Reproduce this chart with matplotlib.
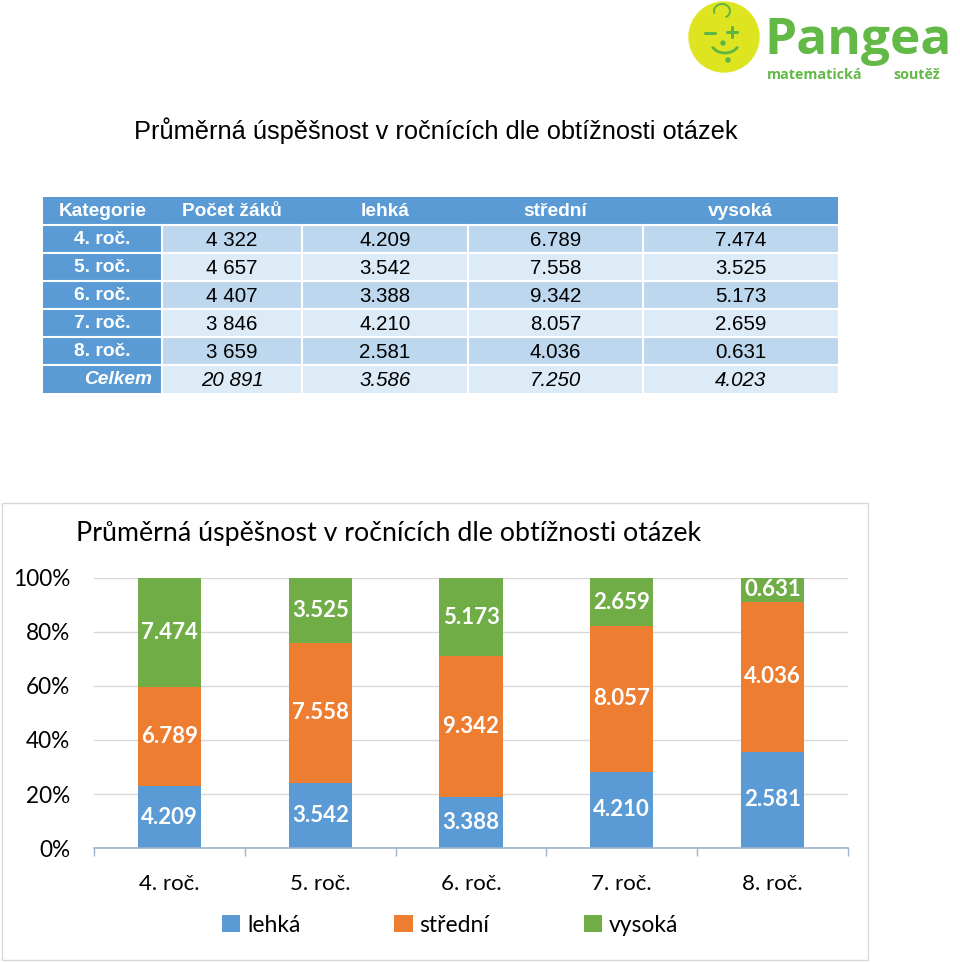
import matplotlib
matplotlib.use("Agg")
import matplotlib.pyplot as plt
from matplotlib.patches import Rectangle, Circle, Arc
import numpy as np

# ---------------- data ----------------
categories = ['4. roč.', '5. roč.', '6. roč.', '7. roč.', '8. roč.']
pocet = ['4 322', '4 657', '4 407', '3 846', '3 659']
lehka = [4.209, 3.542, 3.388, 4.210, 2.581]
stredni = [6.789, 7.558, 9.342, 8.057, 4.036]
vysoka = [7.474, 3.525, 5.173, 2.659, 0.631]
total_label = 'Celkem'
total_pocet = '20 891'
total_vals = [3.586, 7.250, 4.023]
header = ['Kategorie', 'Počet žáků', 'lehká', 'střední', 'vysoká']
series_names = ['lehká', 'střední', 'vysoká']
title = 'Průměrná úspěšnost v ročnících dle obtížnosti otázek'

C_BLUE = '#5B9BD5'
C_ORANGE = '#ED7D31'
C_GREEN = '#70AD47'

W, H = 960, 963
fig = plt.figure(figsize=(W / 100, H / 100), dpi=100)
fig.patch.set_facecolor('white')

# overlay axes in pixel coordinates
ax0 = fig.add_axes([0, 0, 1, 1])
ax0.set_xlim(0, W)
ax0.set_ylim(H, 0)
ax0.axis('off')

# ---------------- logo ----------------
logo_green = '#5DB544'
ax0.add_patch(Circle((724, 37), 35, color='#DFE421', zorder=2))
ax0.plot([705, 715], [33, 33], color=logo_green, lw=2.2, zorder=3, solid_capstyle='round')
ax0.plot([727, 737], [32, 32], color=logo_green, lw=2.2, zorder=3, solid_capstyle='round')
ax0.plot([732, 732], [27, 37], color=logo_green, lw=2.2, zorder=3, solid_capstyle='round')
ax0.add_patch(Circle((723, 43), 2.0, color=logo_green, zorder=3))
ax0.add_patch(Circle((728, 60), 2.0, color=logo_green, zorder=3))
ax0.add_patch(Arc((725, 42), 28, 22, theta1=20, theta2=160, color=logo_green, lw=2.0, zorder=3))
ax0.add_patch(Arc((722, 11), 16, 14, theta1=160, theta2=420, color=logo_green, lw=1.4, zorder=3))
lfont = ['Open Sans', 'DejaVu Sans']
ax0.text(764, 54, 'Pangea', fontsize=37, fontweight='bold', color='#62B946',
         family=lfont, ha='left', va='baseline')
ax0.text(767, 79, 'matematická', fontsize=10.3, fontweight='bold', color='#62B946',
         family=lfont, ha='left', va='baseline')
ax0.text(893, 79, 'soutěž', fontsize=10.3, fontweight='bold', color='#62B946',
         family=lfont, ha='left', va='baseline')

# ---------------- top title ----------------
ax0.text(436, 131, title, fontsize=18.3, color='black', family=['Liberation Sans', 'DejaVu Sans'],
         ha='center', va='center')

# ---------------- table ----------------
col_edges = [43, 162, 302, 468, 643, 838]
row_edges = [197, 225, 253, 281, 309, 337, 365, 393]
tfont = ['Liberation Sans', 'DejaVu Sans']
hsize = 13.8
dsize = 14.8
band_dark = '#BDD7EE'
band_light = '#DDEBF7'

rows = []
for i, cat in enumerate(categories):
    rows.append([cat, pocet[i], f'{lehka[i]:.3f}', f'{stredni[i]:.3f}', f'{vysoka[i]:.3f}'])
rows.append([total_label, total_pocet] + [f'{v:.3f}' for v in total_vals])

# header
for c in range(5):
    x0, x1 = col_edges[c], col_edges[c + 1]
    y0, y1 = row_edges[0], row_edges[1]
    ax0.add_patch(Rectangle((x0, y0), x1 - x0, y1 - y0, facecolor=C_BLUE, edgecolor='none', zorder=1))
for c, h in enumerate(header):
    xc = (col_edges[c] + col_edges[c + 1]) / 2
    ax0.text(xc, (row_edges[0] + row_edges[1]) / 2 + 1, h, color='white', fontsize=hsize,
             fontweight='bold', family=tfont, ha='center', va='center', zorder=3)

for r, row in enumerate(rows):
    y0, y1 = row_edges[r + 1], row_edges[r + 2]
    yc = (y0 + y1) / 2 + 1
    is_total = (r == len(rows) - 1)
    for c in range(5):
        x0, x1 = col_edges[c], col_edges[c + 1]
        if c == 0:
            fc = C_BLUE
        else:
            fc = band_dark if r % 2 == 0 else band_light
        ax0.add_patch(Rectangle((x0, y0), x1 - x0, y1 - y0, facecolor=fc, edgecolor='none', zorder=1))
        style = 'italic' if is_total else 'normal'
        if c == 0:
            if is_total:
                ax0.text(x1 - 10, yc, row[c], color='white', fontsize=hsize, family=tfont,
                         fontweight='bold', style=style, ha='right', va='center', zorder=3)
            else:
                ax0.text((x0 + x1) / 2, yc, row[c], color='white', fontsize=hsize, family=tfont,
                         fontweight='bold', ha='center', va='center', zorder=3)
        else:
            ax0.text((x0 + x1) / 2, yc, row[c], color='black', fontsize=dsize, family=tfont,
                     style=style, ha='center', va='center', zorder=3)

# white separators
for y in row_edges[1:-1]:
    ax0.plot([col_edges[0], col_edges[-1]], [y, y], color='white', lw=1.5, zorder=2)
for x in col_edges[1:-1]:
    ax0.plot([x, x], [row_edges[1], row_edges[-1]], color='white', lw=1.5, zorder=2)

# chart border
ax0.add_patch(Rectangle((1.5, 503), 866, 457, facecolor='none', edgecolor='#D9D9D9', lw=1, zorder=1))

# ---------------- chart ----------------
cfont = ['Lato', 'DejaVu Sans']
left, right, top, bottom = 94, 848, 578, 848
ax = fig.add_axes([left / W, (H - bottom) / H, (right - left) / W, (bottom - top) / H])
ax.set_facecolor('none')

vals = np.array([lehka, stredni, vysoka])
tot = vals.sum(axis=0)
frac = vals / tot
x = np.arange(len(categories))
colors = [C_BLUE, C_ORANGE, C_GREEN]
bottoms = np.zeros(len(categories))
for s in range(3):
    ax.bar(x, frac[s], 0.42, bottom=bottoms, color=colors[s], label=series_names[s], zorder=3)
    for i in range(len(categories)):
        ax.text(x[i], bottoms[i] + frac[s][i] / 2, f'{vals[s][i]:.3f}', color='white',
                fontsize=16, fontweight='bold', family=cfont, ha='center', va='center', zorder=4)
    bottoms = bottoms + frac[s]

ax.set_xlim(-0.5, len(categories) - 0.5)
ax.set_ylim(0, 1)
ax.set_yticks(np.linspace(0, 1, 6))
ax.set_yticklabels([f'{int(round(v * 100))}%' for v in np.linspace(0, 1, 6)])
ax.set_xticks(x)
ax.set_xticklabels(categories)
ax.set_xticks(np.arange(-0.5, len(categories), 1.0), minor=True)
ax.tick_params(axis='x', which='major', length=0, pad=19, labelsize=16, labelcolor='black')
ax.tick_params(axis='x', which='minor', length=6, width=1, color='#9DB2CC', direction='out')
ax.tick_params(axis='y', length=0, pad=17, labelsize=16.3, labelcolor='black')
for lab in ax.get_xticklabels() + ax.get_yticklabels():
    lab.set_family(cfont)
ax.grid(axis='y', color='#D9D9D9', lw=1, zorder=0)
for sp in ['left', 'right', 'top']:
    ax.spines[sp].set_visible(False)
ax.spines['bottom'].set_color('#9DB2CC')
ax.spines['bottom'].set_linewidth(1.2)
ax.spines['bottom'].set_zorder(5)

fig.text(389 / W, (H - 533) / H, title, fontsize=19.3, color='black', family=cfont,
         ha='center', va='center')

leg = ax.legend(loc='center', bbox_to_anchor=(450 / W, (H - 925) / H), bbox_transform=fig.transFigure,
                ncol=3, frameon=False, handlelength=0.8, handleheight=0.8, handletextpad=0.3,
                columnspacing=4.1, prop={'family': cfont, 'size': 16.5})
for t in leg.get_texts():
    t.set_color('black')

fig.savefig('out.png', dpi=100, facecolor='white')
